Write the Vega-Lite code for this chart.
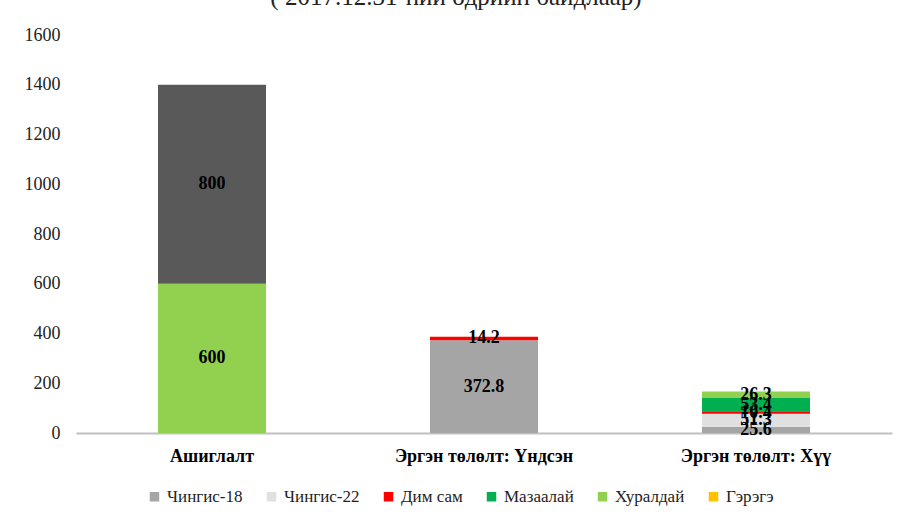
{
  "$schema": "https://vega.github.io/schema/vega-lite/v6.json",
  "width": 816,
  "height": 398,
  "autosize": {"type": "none"},
  "padding": {"left": 76, "top": 35, "right": 13, "bottom": 85},
  "background": "white",
  "title": {
    "text": "( 2017.12.31-ний өдрийн байдлаар)",
    "font": "Liberation Serif",
    "fontSize": 25,
    "fontWeight": "normal",
    "color": "#222222",
    "anchor": "middle",
    "baseline": "bottom",
    "offset": 0,
    "dy": 9,
    "dx": -28,
    "frame": "group"
  },
  "config": {
    "view": {"stroke": null},
    "font": "Liberation Serif"
  },
  "data": {
    "values": [
      {"cat": "Ашиглалт", "series": "Хуралдай", "ord": 5, "value": 600},
      {"cat": "Ашиглалт", "series": "Бусад", "ord": 7, "value": 800},
      {"cat": "Эргэн төлөлт: Үндсэн", "series": "Чингис-18", "ord": 1, "value": 372.8},
      {"cat": "Эргэн төлөлт: Үндсэн", "series": "Дим сам", "ord": 3, "value": 14.2},
      {"cat": "Эргэн төлөлт: Хүү", "series": "Чингис-18", "ord": 1, "value": 25.6},
      {"cat": "Эргэн төлөлт: Хүү", "series": "Чингис-22", "ord": 2, "value": 51.3},
      {"cat": "Эргэн төлөлт: Хүү", "series": "Дим сам", "ord": 3, "value": 10.4},
      {"cat": "Эргэн төлөлт: Хүү", "series": "Мазаалай", "ord": 4, "value": 53.4},
      {"cat": "Эргэн төлөлт: Хүү", "series": "Хуралдай", "ord": 5, "value": 26.3}
    ]
  },
  "transform": [
    {"stack": "value", "groupby": ["cat"], "sort": [{"field": "ord", "order": "ascending"}], "as": ["y0", "y1"]},
    {"calculate": "(datum.y0 + datum.y1) / 2", "as": "ymid"}
  ],
  "encoding": {
    "x": {
      "field": "cat",
      "type": "nominal",
      "sort": ["Ашиглалт", "Эргэн төлөлт: Үндсэн", "Эргэн төлөлт: Хүү"],
      "scale": {"paddingInner": 0.6, "paddingOuter": 0.3},
      "axis": {
        "title": null,
        "labelAngle": 0,
        "labelFont": "Liberation Serif",
        "labelFontSize": 18,
        "labelFontWeight": "bold",
        "labelColor": "#000000",
        "labelPadding": 14,
        "ticks": false,
        "domainColor": "#BFBFBF",
        "domainWidth": 2
      }
    }
  },
  "layer": [
    {
      "mark": {"type": "bar", "width": 108},
      "encoding": {
        "y": {
          "field": "y0",
          "type": "quantitative",
          "scale": {"domain": [0, 1600]},
          "axis": {
            "title": null,
            "values": [0, 200, 400, 600, 800, 1000, 1200, 1400, 1600],
            "format": "d",
            "grid": false,
            "domain": false,
            "ticks": false,
            "labelFont": "Liberation Serif",
            "labelFontSize": 18,
            "labelColor": "#222222",
            "labelPadding": 16
          }
        },
        "y2": {"field": "y1"},
        "color": {
          "field": "series",
          "type": "nominal",
          "scale": {
            "domain": ["Чингис-18", "Чингис-22", "Дим сам", "Мазаалай", "Хуралдай", "Гэрэгэ", "Бусад"],
            "range": ["#A5A5A5", "#E0E0E0", "#FF0000", "#00B050", "#92D050", "#FFC000", "#595959"]
          },
          "legend": {
            "title": null,
            "orient": "none",
            "direction": "horizontal",
            "legendX": 70,
            "legendY": 453,
            "values": ["Чингис-18", "Чингис-22", "Дим сам", "Мазаалай", "Хуралдай", "Гэрэгэ"],
            "symbolType": "square",
            "symbolSize": 90,
            "symbolStrokeWidth": 0,
            "labelFont": "Liberation Serif",
            "labelFontSize": 17,
            "labelColor": "#222222",
            "columnPadding": 20,
            "labelOffset": 4
          }
        }
      }
    },
    {
      "mark": {"type": "text", "font": "Liberation Serif", "fontWeight": "bold", "fontSize": 18, "color": "#000000", "baseline": "middle"},
      "encoding": {
        "y": {"field": "ymid", "type": "quantitative"},
        "text": {"field": "value", "type": "quantitative", "format": ".1~f"}
      }
    }
  ]
}
